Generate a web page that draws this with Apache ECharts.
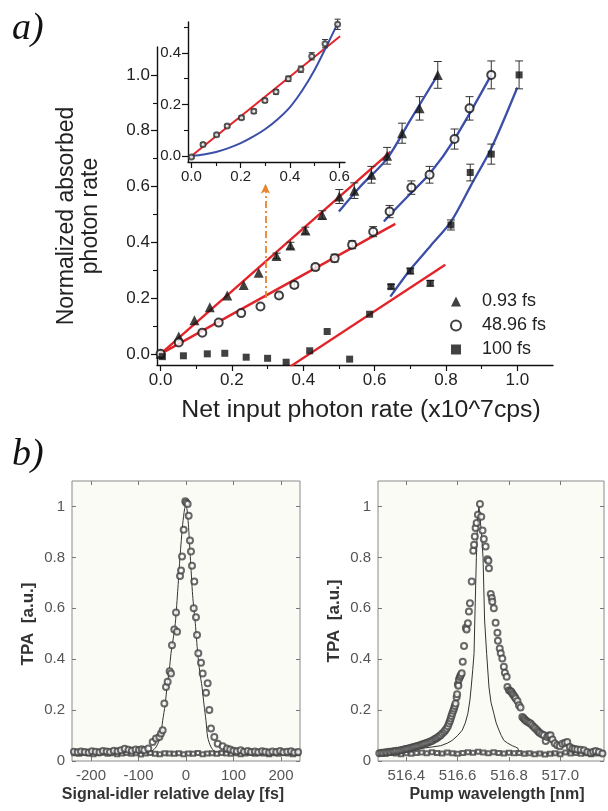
<!DOCTYPE html>
<html><head><meta charset="utf-8">
<script src="https://cdn.jsdelivr.net/npm/echarts@6/dist/echarts.min.js"></script>
<style>html,body{margin:0;padding:0;background:#fff}#c{width:608px;height:811px}</style>
</head><body><div id="c"></div>
<script>
// ---------- Panel a: main data ----------
const triX = [0.0, 0.051, 0.095, 0.138, 0.187, 0.233, 0.275, 0.325, 0.364, 0.406, 0.453, 0.501, 0.543, 0.591, 0.635, 0.677, 0.726, 0.777];
const triY = [0.0, 0.062, 0.12, 0.167, 0.209, 0.247, 0.291, 0.351, 0.388, 0.442, 0.498, 0.564, 0.585, 0.642, 0.71, 0.791, 0.88, 1.0];
const triErr = [0, 0, 0, 0, 0, 0, 0, 0.01, 0.012, 0.012, 0.015, 0.025, 0.028, 0.03, 0.03, 0.036, 0.042, 0.048];

const cirX = [0.0, 0.051, 0.117, 0.163, 0.226, 0.28, 0.332, 0.375, 0.434, 0.488, 0.537, 0.596, 0.642, 0.703, 0.754, 0.824, 0.866, 0.927];
const cirY = [0.0, 0.041, 0.076, 0.112, 0.146, 0.17, 0.209, 0.247, 0.311, 0.343, 0.391, 0.438, 0.51, 0.596, 0.642, 0.77, 0.88, 1.0];
const cirErr = [0, 0, 0, 0, 0, 0, 0.008, 0.01, 0.01, 0.014, 0.014, 0.018, 0.022, 0.024, 0.03, 0.036, 0.042, 0.05];

const sqX = [0.005, 0.064, 0.131, 0.18, 0.24, 0.30, 0.352, 0.418, 0.467, 0.53, 0.586, 0.646, 0.70, 0.756, 0.814, 0.868, 0.927, 1.005];
const sqY = [-0.01, -0.007, 0.0, 0.002, -0.012, -0.016, -0.03, 0.011, 0.08, -0.019, 0.142, 0.241, 0.297, 0.253, 0.462, 0.65, 0.716, 1.0];
const sqErr = [0, 0, 0, 0, 0, 0, 0, 0, 0, 0, 0, 0.008, 0.01, 0.01, 0.018, 0.03, 0.036, 0.05];

const redTri = [[0.0, 0.0], [0.645, 0.725]];
const redCir = [[0.0, 0.0], [0.658, 0.466]];
const redSq = [[0.364, -0.045], [0.798, 0.319]];
const blueTri = [[0.50, 0.51], [0.56, 0.60], [0.635, 0.70], [0.70, 0.838], [0.777, 1.0]];
const blueCir = [[0.626, 0.474], [0.644, 0.50], [0.70, 0.574], [0.756, 0.648], [0.824, 0.77], [0.927, 1.0]];
const blueSq = [[0.644, 0.205], [0.698, 0.299], [0.756, 0.386], [0.814, 0.474], [0.87, 0.604], [0.927, 0.737], [1.0, 0.955]];

const arrowX = 0.294, arrowY0 = 0.20, arrowY1 = 0.61;

const legendNames = ['0.93 fs', '48.96 fs', '100 fs'];
const mainTicksX = [0, 0.2, 0.4, 0.6, 0.8, 1.0];
const mainMinorX = [0.1, 0.3, 0.5, 0.7, 0.9];
const mainTicksY = [0, 0.2, 0.4, 0.6, 0.8, 1.0];
const mainMinorY = [0.1, 0.3, 0.5, 0.7, 0.9];

// ---------- Panel a: inset ----------
const insX = [0, 0.047, 0.102, 0.145, 0.203, 0.253, 0.298, 0.343, 0.393, 0.444, 0.488, 0.542, 0.593];
const insY = [-0.004, 0.045, 0.083, 0.117, 0.149, 0.174, 0.216, 0.249, 0.30, 0.337, 0.387, 0.436, 0.511];
const insErr = [0.005, 0.006, 0.006, 0.006, 0.007, 0.008, 0.008, 0.009, 0.01, 0.012, 0.014, 0.016, 0.02];
const insRed = [[0, 0], [0.603, 0.465]];
const insBlue = [[0, 0], [0.05, 0.006], [0.1, 0.016], [0.15, 0.031], [0.2, 0.05], [0.25, 0.075], [0.3, 0.105], [0.35, 0.143], [0.4, 0.19], [0.45, 0.255], [0.5, 0.335], [0.55, 0.43], [0.593, 0.514]];
const insTicksX = [0, 0.2, 0.4, 0.6];
const insMinorX = [0.1, 0.3, 0.5];
const insTicksY = [0, 0.2, 0.4];
const insMinorY = [0.1, 0.3, 0.5];

// ---------- Panel b left: delay scan ----------
const delayCircX = [-236,-228,-221,-213,-205,-198,-190,-182,-175,-167,-160,-152,-144,-137,-129,-121,-114,-106,-99,-93,
  -87.8,-79.4,-70.2,-63.2,-56.1,-52.6,-49.1,-45.6,-42.1,-38.6,-34.5,-31.6,-29.5,-24.6,-21,-18.9,-12.6,-10.5,-8.4,-4.9,-1.5,
  0.5,3.5,5.6,8.4,10.5,12.6,16.2,17.5,21,23.2,25.9,31.6,35.1,42.1,45.6,49.1,52.6,59.6,66.7,77.2,86.3,
  93,100,107,115,122,130,137,145,152,160,167,175,182,190,198,205,213,221,228,236];
const delayCircY = [0.036,0.034,0.037,0.035,0.033,0.038,0.036,0.034,0.039,0.037,0.035,0.040,0.038,0.042,0.048,0.044,0.040,0.045,0.043,0.046,
  0.042,0.049,0.075,0.088,0.094,0.108,0.121,0.226,0.291,0.311,0.353,0.344,0.455,0.517,0.583,0.508,0.727,0.748,0.803,0.908,1.02,
  1.015,1.01,0.963,0.866,0.823,0.767,0.60,0.705,0.565,0.495,0.423,0.386,0.344,0.268,0.305,0.20,0.128,0.094,0.068,0.058,0.049,
  0.045,0.04,0.038,0.042,0.036,0.039,0.035,0.037,0.034,0.038,0.036,0.033,0.037,0.035,0.039,0.034,0.036,0.038,0.033,0.035];
const delaySqX = [-235,-225,-215,-205,-195,-185,-175,-165,-155,-145,-135,-125,-115,-105,-95,-85,-75,-65,-55,-45,-35,-25,-15,-5,
  5,15,25,35,45,55,65,75,85,95,105,115,125,135,145,155,165,175,185,195,205,215,225,235];
const delaySqY = [0.030,0.028,0.031,0.029,0.027,0.030,0.032,0.028,0.030,0.027,0.029,0.031,0.028,0.030,0.026,0.029,
  0.031,0.028,0.027,0.030,0.029,0.028,0.030,0.027,0.029,0.028,0.031,0.027,0.029,0.030,0.028,0.031,
  0.029,0.028,0.030,0.027,0.029,0.031,0.028,0.030,0.029,0.027,0.030,0.028,0.031,0.029,0.027,0.030];
const delayLineX = [-240,-90,-75,-63,-54,-49,-44,-40,-35,-31.6,-27,-22.5,-17,-12.6,-7,-3,-1,2,5,9.1,14,19.6,24.6,29,33.7,38,42,45.6,52.6,62,75,240];
const delayLineY = [0.035,0.035,0.036,0.055,0.094,0.16,0.22,0.291,0.36,0.423,0.48,0.541,0.68,0.803,0.93,0.99,1.0,0.99,0.93,0.803,0.65,0.541,0.423,0.35,0.291,0.22,0.16,0.094,0.055,0.036,0.035,0.035];
const delayTicks = [-200, -100, 0, 100, 200];
const tpaTicks = [0, 0.2, 0.4, 0.6, 0.8, 1];

// ---------- Panel b right: wavelength scan ----------
const wlCircles = [[516.295,0.030],[516.303,0.032],[516.310,0.031],[516.318,0.034],[516.325,0.033],[516.333,0.036],[516.340,0.035],
  [516.348,0.038],[516.355,0.037],[516.362,0.040],[516.370,0.039],[516.377,0.042],[516.384,0.043],[516.391,0.045],[516.398,0.047],
  [516.405,0.048],[516.412,0.050],[516.419,0.052],[516.426,0.054],[516.433,0.056],[516.440,0.058],[516.447,0.060],[516.454,0.062],
  [516.461,0.065],[516.468,0.067],[516.475,0.070],[516.482,0.072],[516.489,0.075],[516.496,0.078],[516.503,0.081],[516.510,0.085],
  [516.516,0.088],[516.522,0.092],[516.528,0.097],[516.534,0.101],[516.540,0.108],[516.547,0.114],[516.552,0.121],[516.557,0.128],
  [516.562,0.137],[516.566,0.147],[516.570,0.157],[516.573,0.167],[516.576,0.177],[516.579,0.187],[516.583,0.197],[516.586,0.206],
  [516.589,0.216],[516.592,0.226],[516.596,0.250],[516.598,0.262],[516.601,0.302],[516.603,0.296],[516.605,0.320],[516.609,0.330],
  [516.612,0.337],[516.616,0.345],[516.620,0.390],[516.625,0.452],[516.632,0.523],[516.635,0.517],[516.640,0.541],[516.644,0.587],
  [516.648,0.620],[516.655,0.705],[516.661,0.826],[516.664,0.850],[516.667,0.882],[516.670,0.915],[516.674,0.935],[516.679,0.967],
  [516.687,1.010],[516.692,0.960],[516.697,0.906],[516.702,0.872],[516.709,0.843],[516.716,0.793],[516.720,0.787],[516.722,0.757],
  [516.729,0.656],[516.733,0.640],[516.735,0.626],[516.741,0.600],[516.748,0.543],[516.755,0.504],[516.757,0.472],[516.764,0.442],
  [516.768,0.423],[516.774,0.403],[516.780,0.370],[516.784,0.347],[516.791,0.331],[516.794,0.291],[516.800,0.278],[516.805,0.275],
  [516.809,0.272],[516.813,0.265],[516.817,0.259],[516.822,0.252],[516.826,0.246],[516.833,0.236],[516.839,0.219],[516.845,0.210],
  [516.852,0.173],[516.857,0.168],[516.861,0.163],[516.866,0.158],[516.872,0.154],[516.878,0.150],[516.884,0.147],[516.890,0.140],
  [516.897,0.134],[516.903,0.128],[516.910,0.121],[516.915,0.115],[516.920,0.110],[516.928,0.105],[516.936,0.101],[516.943,0.079],
  [516.949,0.094],[516.955,0.100],[516.962,0.101],[516.969,0.084],[516.978,0.070],[516.988,0.062],[516.998,0.058],[517.008,0.068],
  [517.018,0.072],[517.027,0.075],[517.037,0.055],[517.047,0.049],[517.056,0.047],[517.066,0.045],[517.079,0.044],[517.092,0.042],
  [517.105,0.035],[517.118,0.031],[517.128,0.036],[517.138,0.039],[517.150,0.035],[517.164,0.029]];
const wlSqX = [516.30,516.32,516.34,516.36,516.38,516.40,516.42,516.44,516.46,516.48,516.50,516.52,516.54,516.56,516.58,516.60,
  516.62,516.64,516.66,516.68,516.70,516.72,516.74,516.76,516.78,516.80,516.82,516.84,516.86,516.88,516.90,516.92,
  516.94,516.96,516.98,517.00,517.02,517.04,517.06,517.08,517.10,517.12,517.14,517.16];
const wlSqY = [0.030,0.028,0.031,0.029,0.027,0.030,0.028,0.031,0.033,0.030,0.034,0.031,0.029,0.033,0.030,0.028,0.031,0.034,0.032,0.036,0.033,0.030,
  0.034,0.031,0.029,0.032,0.030,0.031,0.028,0.030,0.027,0.029,0.026,0.028,0.030,0.027,0.033,0.029,0.031,0.028,0.030,0.027,0.029,0.031];
const wlLineX = [516.29,516.34,516.40,516.456,516.50,516.534,516.56,516.579,516.60,516.618,516.630,516.640,516.648,516.653,516.659,516.664,
  516.667,516.673,516.678,516.683,516.688,516.694,516.699,516.705,516.713,516.722,516.730,516.741,516.750,516.761,516.770,516.780,
  516.795,516.813,516.825,516.835,516.839,517.17];
const wlLineY = [0.030,0.035,0.043,0.049,0.055,0.060,0.070,0.081,0.100,0.121,0.150,0.187,0.240,0.291,0.360,0.423,0.554,0.800,0.950,1.0,
  0.95,0.88,0.80,0.554,0.423,0.291,0.23,0.187,0.15,0.121,0.10,0.081,0.07,0.060,0.055,0.050,0.030,0.030];
const wlTicks = [516.4, 516.6, 516.8, 517.0];

// ---------- helpers ----------
const zip = (xs, ys) => xs.map((x, i) => [x, ys[i]]);
const RED = '#e3232a', BLUE = '#3b4ea8', FONT = 'Liberation Sans';

function axis(o) {
  return Object.assign({
    type: 'value', splitLine: { show: false },
    axisLine: { show: false, onZero: false }, axisTick: { show: false }, axisLabel: { show: false }
  }, o);
}
function mainAxis(grid, min, max, ticks, fontSize, pos) {
  return axis({
    gridIndex: grid, min, max, position: pos,
    axisLine: { show: true, onZero: false, lineStyle: { color: '#111', width: 1.4 } },
    axisTick: { show: true, inside: false, length: 6, customValues: ticks, lineStyle: { color: '#111', width: 1.2 } },
    axisLabel: { show: true, customValues: ticks, fontSize, color: '#222', fontFamily: FONT, margin: 7,
      formatter: v => v.toFixed(1) }
  });
}
function minorAxis(grid, min, max, ticks, pos) {
  return axis({ gridIndex: grid, min, max, position: pos,
    axisTick: { show: true, inside: false, length: 4, customValues: ticks, lineStyle: { color: '#111', width: 1.1 } } });
}
function boxAxis(grid, min, max, ticks, pos, labels, fmt) {
  return axis({ gridIndex: grid, min, max, position: pos,
    axisTick: { show: true, inside: true, length: 4, customValues: ticks, lineStyle: { color: '#777', width: 1 } },
    axisLabel: { show: labels, customValues: ticks, fontSize: 15, color: '#555', fontFamily: FONT, margin: 7,
      formatter: fmt } });
}
function errSeries(xs, ys, es, xi, yi, w) {
  const data = [];
  xs.forEach((x, i) => { if (es[i] > 0) data.push([x, ys[i] - es[i], ys[i] + es[i]]); });
  return {
    type: 'custom', xAxisIndex: xi, yAxisIndex: yi, data, z: 4, silent: true,
    encode: { x: 0, y: [1, 2] },
    renderItem: (params, api) => {
      const lo = api.coord([api.value(0), api.value(1)]);
      const hi = api.coord([api.value(0), api.value(2)]);
      const st = { stroke: '#333', lineWidth: 1 };
      return { type: 'group', children: [
        { type: 'line', shape: { x1: lo[0], y1: lo[1], x2: hi[0], y2: hi[1] }, style: st },
        { type: 'line', shape: { x1: lo[0] - w, y1: lo[1], x2: lo[0] + w, y2: lo[1] }, style: st },
        { type: 'line', shape: { x1: hi[0] - w, y1: hi[1], x2: hi[0] + w, y2: hi[1] }, style: st }
      ] };
    }
  };
}
function fitLine(data, color, xi, yi, w, smooth) {
  return { type: 'line', xAxisIndex: xi, yAxisIndex: yi, data, symbol: 'none', smooth: smooth,
    lineStyle: { color, width: w }, z: 2, silent: true };
}

const fmt1 = v => v.toFixed(1);
const fmtTpa = v => String(v);
const fmtInt = v => String(v);

const option = {
  animation: false,
  backgroundColor: '#fff',
  textStyle: { fontFamily: FONT },
  grid: [
    { left: 157, top: 47, width: 396, height: 318 },
    { left: 188, top: 22, width: 157, height: 140 },
    { left: 72, top: 481, width: 228, height: 280, show: true, backgroundColor: '#fbfbf6', borderColor: '#8a8a8a', borderWidth: 1 },
    { left: 378, top: 481, width: 226, height: 280, show: true, backgroundColor: '#fbfbf6', borderColor: '#8a8a8a', borderWidth: 1 }
  ],
  xAxis: [
    mainAxis(0, -0.01, 1.1, mainTicksX, 17, 'bottom'),
    minorAxis(0, -0.01, 1.1, mainMinorX, 'bottom'),
    mainAxis(1, -0.014, 0.623, insTicksX, 15, 'bottom'),
    minorAxis(1, -0.014, 0.623, insMinorX, 'bottom'),
    boxAxis(2, -240, 240, delayTicks, 'bottom', true, fmtInt),
    boxAxis(2, -240, 240, delayTicks, 'top', false, fmtInt),
    boxAxis(3, 516.29, 517.17, wlTicks, 'bottom', true, fmt1),
    boxAxis(3, 516.29, 517.17, wlTicks, 'top', false, fmt1)
  ],
  yAxis: [
    mainAxis(0, -0.04, 1.1, mainTicksY, 17, 'left'),
    minorAxis(0, -0.04, 1.1, mainMinorY, 'left'),
    mainAxis(1, -0.023, 0.52, insTicksY, 15, 'left'),
    minorAxis(1, -0.023, 0.52, insMinorY, 'left'),
    boxAxis(2, 0, 1.1, tpaTicks, 'left', true, fmtTpa),
    boxAxis(2, 0, 1.1, tpaTicks, 'right', false, fmtTpa),
    boxAxis(3, 0, 1.1, tpaTicks, 'left', true, fmtTpa),
    boxAxis(3, 0, 1.1, tpaTicks, 'right', false, fmtTpa)
  ],
  legend: {
    data: legendNames, orient: 'vertical', left: 450, top: 291, itemWidth: 10, itemHeight: 10, itemGap: 3,
    selectedMode: false, padding: 0,
    textStyle: { fontSize: 18, lineHeight: 21, color: '#222', fontFamily: FONT, padding: [0, 0, 0, 16] }
  },
  series: [
    fitLine(redTri, RED, 0, 0, 2.4, false), fitLine(redCir, RED, 0, 0, 2.4, false), fitLine(redSq, RED, 0, 0, 2.4, false),
    fitLine(blueTri, BLUE, 0, 0, 2.3, 0.3), fitLine(blueCir, BLUE, 0, 0, 2.3, 0.3), fitLine(blueSq, BLUE, 0, 0, 2.3, 0.3),
    errSeries(triX, triY, triErr, 0, 0, 4),
    errSeries(cirX, cirY, cirErr, 0, 0, 4),
    errSeries(sqX, sqY, sqErr, 0, 0, 4),
    { name: legendNames[0], type: 'scatter', xAxisIndex: 0, yAxisIndex: 0, data: zip(triX, triY), symbol: 'triangle',
      symbolSize: 10, itemStyle: { color: '#111' }, z: 5,
      markLine: { silent: true, symbol: ['none', 'arrow'], symbolSize: [7, 10],
        lineStyle: { color: '#e8832e', width: 1.8, type: [7, 3, 2, 3] }, label: { show: false },
        data: [[{ coord: [arrowX, arrowY0] }, { coord: [arrowX, arrowY1] }]] } },
    { name: legendNames[1], type: 'scatter', xAxisIndex: 0, yAxisIndex: 0, data: zip(cirX, cirY), symbol: 'emptyCircle',
      symbolSize: 8, itemStyle: { color: '#111', borderColor: '#111', borderWidth: 1.3 }, z: 5 },
    { name: legendNames[2], type: 'scatter', xAxisIndex: 0, yAxisIndex: 0, data: zip(sqX, sqY), symbol: 'rect',
      symbolSize: 7, itemStyle: { color: '#111' }, z: 5 },
    // inset
    fitLine(insRed, RED, 2, 2, 2, false), fitLine(insBlue, BLUE, 2, 2, 2, 0.3),
    errSeries(insX, insY, insErr, 2, 2, 3),
    { type: 'scatter', xAxisIndex: 2, yAxisIndex: 2, data: zip(insX, insY), symbol: 'emptyCircle', symbolSize: 5,
      itemStyle: { color: '#333', borderColor: '#333', borderWidth: 1 }, z: 5 },
    // b left
    { type: 'line', xAxisIndex: 4, yAxisIndex: 4, data: zip(delayLineX, delayLineY), symbol: 'none', smooth: 0.25,
      lineStyle: { color: '#333', width: 1 }, z: 3 },
    { type: 'scatter', xAxisIndex: 4, yAxisIndex: 4, data: zip(delaySqX, delaySqY), symbol: 'emptyRect', symbolSize: 4,
      itemStyle: { color: '#444', borderColor: '#444', borderWidth: 0.9 }, z: 4 },
    { type: 'scatter', xAxisIndex: 4, yAxisIndex: 4, data: zip(delayCircX, delayCircY), symbol: 'emptyCircle', symbolSize: 6,
      itemStyle: { color: '#444', borderColor: '#444', borderWidth: 1 }, z: 5 },
    // b right
    { type: 'line', xAxisIndex: 6, yAxisIndex: 6, data: zip(wlLineX, wlLineY), symbol: 'none',
      lineStyle: { color: '#333', width: 1 }, z: 3 },
    { type: 'scatter', xAxisIndex: 6, yAxisIndex: 6, data: zip(wlSqX, wlSqY), symbol: 'emptyRect', symbolSize: 4,
      itemStyle: { color: '#444', borderColor: '#444', borderWidth: 0.9 }, z: 4 },
    { type: 'scatter', xAxisIndex: 6, yAxisIndex: 6, data: wlCircles, symbol: 'emptyCircle', symbolSize: 6,
      itemStyle: { color: '#444', borderColor: '#444', borderWidth: 1 }, z: 5 }
  ],
  graphic: [
    { type: 'text', left: 12, top: 10, style: { text: 'a)', font: 'italic 38px "Liberation Serif"', fill: '#111' } },
    { type: 'text', left: 12, top: 436, style: { text: 'b)', font: 'italic 38px "Liberation Serif"', fill: '#111' } },
    { type: 'text', x: 67, y: 216, rotation: Math.PI / 2,
      style: { text: 'Normalized absorbed', font: '23px "Liberation Sans"', fill: '#222', align: 'center', verticalAlign: 'middle' } },
    { type: 'text', x: 91, y: 216, rotation: Math.PI / 2,
      style: { text: 'photon rate', font: '23px "Liberation Sans"', fill: '#222', align: 'center', verticalAlign: 'middle' } },
    { type: 'text', x: 361, y: 411, scaleX: 1.08,
      style: { text: 'Net input photon rate (x10^7cps)', font: '23px "Liberation Sans"', fill: '#222', align: 'center', verticalAlign: 'middle' } },
    { type: 'text', x: 28, y: 624, rotation: Math.PI / 2,
      style: { text: 'TPA  [a.u.]', font: 'bold 17px "Liberation Sans"', fill: '#333', align: 'center', verticalAlign: 'middle' } },
    { type: 'text', x: 334, y: 621, rotation: Math.PI / 2,
      style: { text: 'TPA  [a.u.]', font: 'bold 17px "Liberation Sans"', fill: '#333', align: 'center', verticalAlign: 'middle' } },
    { type: 'text', x: 173, y: 795,
      style: { text: 'Signal-idler relative delay [fs]', font: 'bold 16px "Liberation Sans"', fill: '#333', align: 'center', verticalAlign: 'middle' } },
    { type: 'text', x: 497, y: 795,
      style: { text: 'Pump wavelength [nm]', font: 'bold 16px "Liberation Sans"', fill: '#333', align: 'center', verticalAlign: 'middle' } }
  ]
};

const chart = echarts.init(document.getElementById('c'), null, { renderer: 'canvas', width: 608, height: 811 });
chart.setOption(option);
</script></body></html>
